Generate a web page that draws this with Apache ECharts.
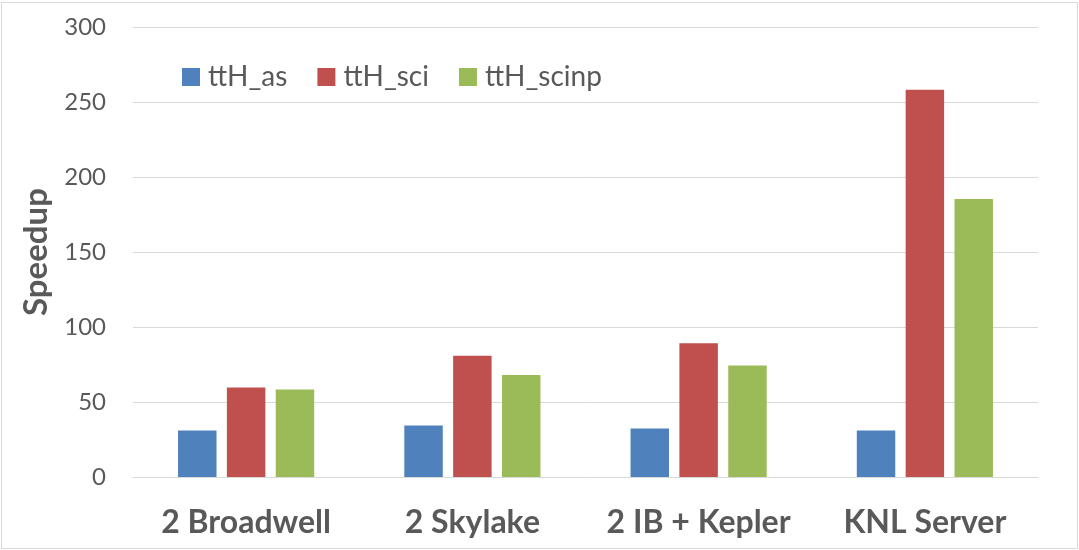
<!DOCTYPE html>
<html>
<head>
    <meta charset="utf-8">
    <title>Speedup</title>
    <style>
        html, body { margin: 0; padding: 0; background: #fff; }
        #main {
            position: absolute;
            left: 1px; top: 2px;
            width: 1075px; height: 545px;
            border: 1px solid #d9d9d9;
        }
    </style>
</head>
<body>
<div id="main"></div>
<script src="https://cdn.jsdelivr.net/npm/echarts@6/dist/echarts.min.js"></script>
<script>
    var categories = ['2 Broadwell', '2 Skylake', '2 IB + Kepler', 'KNL Server'];
    var seriesNames = ['ttH_as', 'ttH_sci', 'ttH_scinp'];
    var ttH_as = [31.0, 34.4, 32.4, 31.0];
    var ttH_sci = [59.6, 80.9, 89.1, 258.2];
    var ttH_scinp = [58.3, 68.0, 74.3, 185.3];
    var colors = ['#4f81bd', '#c0504d', '#9bbb59'];

    var font = 'Lato, "Open Sans", sans-serif';
    var myChart = echarts.init(document.getElementById('main'));
    var values = [ttH_as, ttH_sci, ttH_scinp];

    myChart.setOption({
        animation: false,
        color: colors,
        legend: {
            left: 175,
            top: 55,
            itemWidth: 18,
            itemHeight: 18,
            itemGap: 30,
            icon: 'rect',
            textStyle: { fontFamily: font, fontSize: 28, color: '#595959', padding: [0, 0, 0, 3] },
            data: seriesNames
        },
        grid: { left: 131, right: 39, top: 24, bottom: 71 },
        xAxis: {
            type: 'category',
            data: categories,
            axisLine: { lineStyle: { color: '#d9d9d9', width: 1 } },
            axisTick: { show: false },
            axisLabel: {
                interval: 0,
                margin: 30,
                fontFamily: font, fontSize: 32, fontWeight: 'bold', color: '#595959'
            }
        },
        yAxis: {
            type: 'value',
            min: 0, max: 300, interval: 50,
            name: 'Speedup',
            nameLocation: 'middle',
            nameGap: 80,
            nameTextStyle: { fontFamily: font, fontSize: 33, fontWeight: 'bold', color: '#595959' },
            axisLine: { show: false },
            axisTick: { show: false },
            splitLine: { lineStyle: { color: '#d9d9d9', width: 1 } },
            axisLabel: { margin: 27, fontFamily: font, fontSize: 24, color: '#595959' }
        },
        series: seriesNames.map(function (n, i) {
            return {
                name: n,
                type: 'bar',
                barWidth: '17%',
                barGap: '27%',
                data: values[i]
            };
        })
    });
</script>
</body>
</html>
